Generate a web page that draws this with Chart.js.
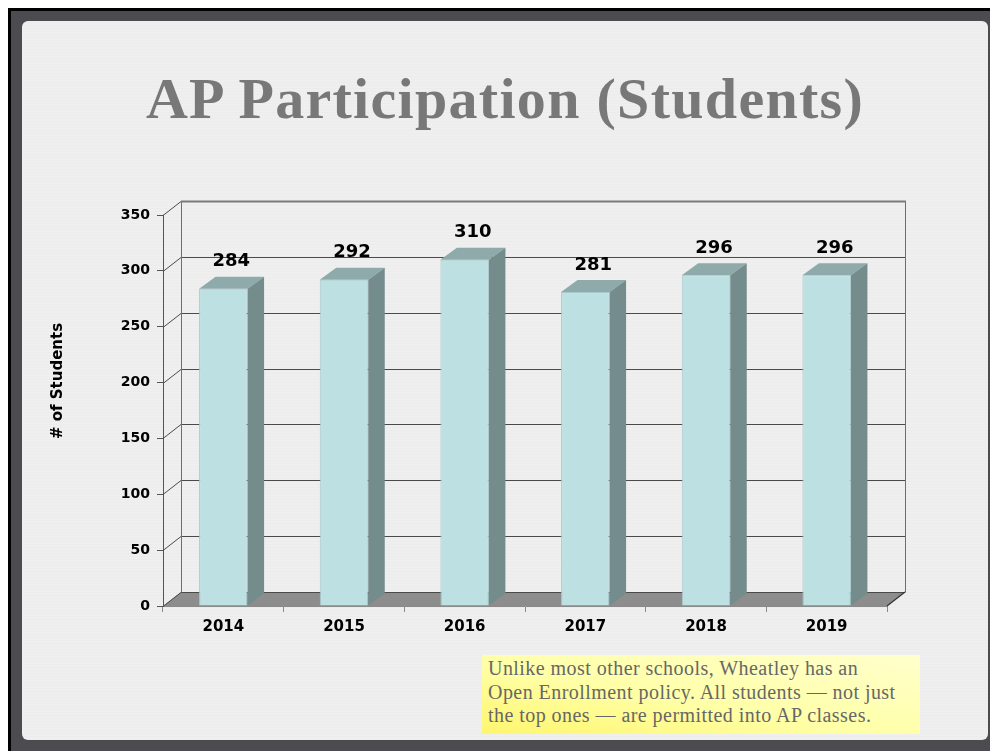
<!DOCTYPE html>
<html>
<head>
<meta charset="utf-8">
<script src="https://cdn.jsdelivr.net/npm/chart.js@4.4.1/dist/chart.umd.min.js"></script>
<style>
  html, body { margin: 0; padding: 0; background: #ffffff; width: 990px; height: 751px; overflow: hidden; }
  #frame { position: absolute; left: 8px; top: 8px; width: 982px; height: 743px; background: #4c4c50;
           border-left: 3px solid #000; border-top: 3px solid #000; box-sizing: border-box; }
  #panel { position: absolute; left: 22px; top: 21px; width: 966px; height: 719px; border-radius: 6px;
           background-color: #efefef;
           background-image: repeating-linear-gradient(0deg, rgba(0,0,0,0.012) 0px, rgba(0,0,0,0.012) 1px, rgba(255,255,255,0) 1px, rgba(255,255,255,0) 3px); }
  #title { position: absolute; left: 22px; top: 70px; width: 966px; text-align: center;
           font-family: 'Liberation Serif', serif; font-weight: bold; font-size: 58px; line-height: 58px; letter-spacing: 1.3px;
           color: #787878; white-space: nowrap; }
  #note { position: absolute; left: 482px; top: 655px; width: 438px; height: 79px; box-sizing: border-box;
          padding: 2px 0 0 6px;
          background: linear-gradient(to top right, #fff66e 0%, #ffffa8 45%, #ffffcc 100%);
          font-family: 'Liberation Serif', serif; font-size: 20px; line-height: 23.5px; letter-spacing: 0.45px; color: #676767; white-space: nowrap; }
  #chart { position: absolute; left: 0; top: 0; }
</style>
</head>
<body>
<div id="frame"></div>
<div id="panel"></div>
<div id="title">AP Participation (Students)</div>
<canvas id="chart" width="990" height="751"></canvas>
<div id="note">Unlike most other schools, Wheatley has an<br>Open Enrollment policy. All students — not just<br>the top ones — are permitted into AP classes.</div>
<script>
// ---- data ----
const years = ['2014', '2015', '2016', '2017', '2018', '2019'];
const students = [284, 292, 310, 281, 296, 296];
const yAxisTitle = '# of Students';
const yMin = 0;
const yMax = 350;
const yStep = 50;

// ---- 3D look ----
const WALL_DX = 18, WALL_DY = -14;
const BAR_DX = 16.5, BAR_DY = -12;

const threeD = {
  id: 'threeD',
  beforeDatasetsDraw(chart) {
    const { ctx, chartArea: ca, scales: { y } } = chart;
    ctx.save();
    // floor
    const y0 = y.getPixelForValue(0);
    ctx.fillStyle = '#8d8d8d';
    ctx.beginPath();
    ctx.moveTo(ca.left, y0);
    ctx.lineTo(ca.right, y0);
    ctx.lineTo(ca.right + WALL_DX, y0 + WALL_DY);
    ctx.lineTo(ca.left + WALL_DX, y0 + WALL_DY);
    ctx.closePath();
    ctx.fill();
    // back wall grid lines + left wall slants
    ctx.lineWidth = 1;
    ctx.strokeStyle = '#4a4a4a';
    for (let v = yMin; v <= yMax; v += yStep) {
      const py = Math.round(y.getPixelForValue(v)) + 0.5;
      ctx.beginPath();
      ctx.moveTo(ca.left + WALL_DX, py + WALL_DY);
      ctx.lineTo(ca.right + WALL_DX, py + WALL_DY);
      ctx.stroke();
      ctx.beginPath();
      ctx.moveTo(ca.left, py);
      ctx.lineTo(ca.left + WALL_DX, py + WALL_DY);
      ctx.stroke();
    }
    // wall verticals
    const yt = Math.round(y.getPixelForValue(yMax)) + 0.5 + WALL_DY;
    const yb = Math.round(y0) + 0.5 + WALL_DY;
    ctx.strokeStyle = '#6e6e6e';
    ctx.beginPath();
    ctx.moveTo(Math.round(ca.left + WALL_DX) + 0.5, yt);
    ctx.lineTo(Math.round(ca.left + WALL_DX) + 0.5, yb);
    ctx.moveTo(Math.round(ca.right + WALL_DX) + 0.5, yt);
    ctx.lineTo(Math.round(ca.right + WALL_DX) + 0.5, yb);
    ctx.stroke();
    ctx.lineWidth = 2;
    ctx.strokeStyle = '#7a7a7a';
    ctx.beginPath();
    ctx.moveTo(ca.left + WALL_DX, yt);
    ctx.lineTo(ca.right + WALL_DX + 1, yt);
    ctx.stroke();
    // floor right diagonal edge
    ctx.lineWidth = 1.2;
    ctx.strokeStyle = '#333';
    ctx.beginPath();
    ctx.moveTo(ca.right, y0);
    ctx.lineTo(ca.right + WALL_DX, y0 + WALL_DY);
    ctx.stroke();
    ctx.restore();
  },
  afterDatasetsDraw(chart) {
    const { ctx } = chart;
    const meta = chart.getDatasetMeta(0);
    ctx.save();
    meta.data.forEach((bar) => {
      const { x, y, base, width } = bar.getProps(['x', 'y', 'base', 'width'], true);
      const l = x - width / 2, r = x + width / 2;
      // top face
      ctx.fillStyle = '#8eaaab';
      ctx.beginPath();
      ctx.moveTo(l, y);
      ctx.lineTo(r, y);
      ctx.lineTo(r + BAR_DX, y + BAR_DY);
      ctx.lineTo(l + BAR_DX, y + BAR_DY);
      ctx.closePath();
      ctx.fill();
      // side face
      ctx.fillStyle = '#758c8d';
      ctx.beginPath();
      ctx.moveTo(r, y);
      ctx.lineTo(r + BAR_DX, y + BAR_DY);
      ctx.lineTo(r + BAR_DX, base + BAR_DY);
      ctx.lineTo(r, base);
      ctx.closePath();
      ctx.fill();
    });
    // value labels
    ctx.fillStyle = '#000';
    ctx.font = 'bold 18px "DejaVu Sans"';
    ctx.textAlign = 'center';
    ctx.textBaseline = 'middle';
    meta.data.forEach((bar, i) => {
      const { x, y } = bar.getProps(['x', 'y'], true);
      ctx.fillText(String(students[i]), x + 8, y - 27);
    });
    ctx.restore();
  },
  afterDraw(chart) {
    const { ctx } = chart;
    ctx.save();
    ctx.translate(58, 381);
    ctx.rotate(-Math.PI / 2);
    ctx.fillStyle = '#000';
    ctx.font = 'bold 15px "DejaVu Sans"';
    ctx.textAlign = 'center';
    ctx.textBaseline = 'middle';
    ctx.fillText(yAxisTitle, 0, 0);
    ctx.restore();
  }
};

new Chart(document.getElementById('chart'), {
  type: 'bar',
  data: {
    labels: years,
    datasets: [{
      data: students,
      backgroundColor: '#bde1e3',
      borderColor: '#a9cacc',
      borderWidth: 1,
      categoryPercentage: 1.0,
      barPercentage: 0.402
    }]
  },
  options: {
    responsive: false,
    devicePixelRatio: 1,
    animation: false,
    events: [],
    layout: { padding: { top: 215, right: 103, bottom: 105, left: 0 } },
    plugins: { legend: { display: false }, tooltip: { enabled: false }, title: { display: false } },
    scales: {
      x: {
        offset: true,
        grid: { display: true, drawOnChartArea: false, drawTicks: true, tickLength: 6, color: '#8a8a8a', offset: true },
        border: { display: true, color: '#8a8a8a' },
        ticks: { color: '#000', font: { family: 'DejaVu Sans', weight: 'bold', size: 15 }, padding: 6 },
        afterFit: (s) => { s.height = 40; }
      },
      y: {
        min: yMin,
        max: yMax,
        grid: { display: true, drawOnChartArea: false, drawTicks: true, tickLength: 6, color: '#555' },
        border: { display: true, color: '#555' },
        ticks: { stepSize: yStep, color: '#000', font: { family: 'DejaVu Sans', weight: 'bold', size: 14 }, padding: 7 },
        afterFit: (s) => { s.width = 163; }
      }
    }
  },
  plugins: [threeD]
});
</script>
</body>
</html>
